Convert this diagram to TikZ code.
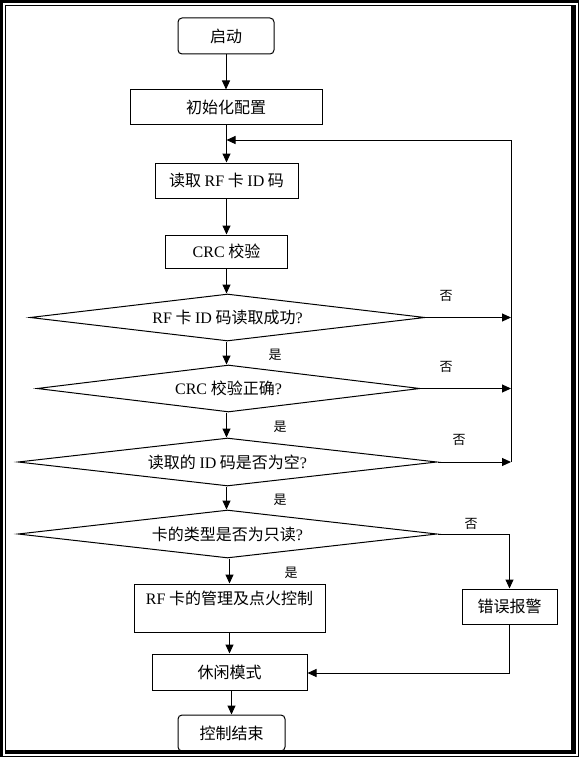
\documentclass[tikz,border=0pt]{standalone}
\usepackage{fontspec}
\setmainfont{Liberation Serif}
\newfontfamily\cjk{Noto Sans CJK SC}
\usetikzlibrary{shapes.geometric,arrows.meta}
\newcommand\latn[1]{{\rmfamily #1}}
\begin{document}
\begin{tikzpicture}[x=1pt,y=-1pt,
  every node/.style={font=\cjk\fontsize{16}{19}\selectfont},
  box/.style={draw, line width=1pt, inner sep=0pt},
  rbox/.style={box, rounded corners=4pt},
  dia/.style={draw, diamond, line width=1pt, inner sep=0pt, shape aspect=8},
  arr/.style={draw, line width=1pt, -{Triangle[length=9pt,width=8pt]}},
  ln/.style={draw, line width=1pt},
  lbl/.style={font=\cjk\fontsize{13}{15}\selectfont}]
\useasboundingbox (0,0) rectangle (581,757);
\fill[white] (0,0) rectangle (581,757);

% nodes
\node[rbox, minimum width=96pt, minimum height=36pt] (start) at (226,36) {启动};
\node[box, minimum width=192pt, minimum height=35pt] (init) at (226,107.5) {初始化配置};
\node[box, minimum width=143pt, minimum height=35pt] (read) at (226.5,180.5) {读取 \latn{RF} 卡 \latn{ID} 码};
\node[box, minimum width=122pt, minimum height=33pt] (crc) at (226.5,251.5) {\latn{CRC} 校验};
\node[dia, minimum width=395pt, minimum height=47pt] (d1) at (227.5,317.5) {\latn{RF} 卡 \latn{ID} 码读取成功\latn{?}};
\node[dia, minimum width=383pt, minimum height=47pt] (d2) at (228.5,388.5) {\latn{CRC} 校验正确\latn{?}};
\node[dia, minimum width=419pt, minimum height=48pt] (d3) at (227.5,462) {读取的 \latn{ID} 码是否为空\latn{?}};
\node[dia, minimum width=419pt, minimum height=48pt] (d4) at (227.5,534) {卡的类型是否为只读\latn{?}};
\node[box, minimum width=191pt, minimum height=48pt, text height=11pt, text depth=19pt] (mgmt) at (229.5,608) {\latn{RF} 卡的管理及点火控制};
\node[box, minimum width=95pt, minimum height=35pt] (alarm) at (509.5,606.5) {错误报警};
\node[box, minimum width=155pt, minimum height=36pt] (idle) at (229.5,672) {休闲模式};
\node[rbox, minimum width=107pt, minimum height=36pt] (end) at (231.5,733) {控制结束};

% labels
\node[lbl] (n1) at (446,296) {否};
\node[lbl] (n2) at (446,367) {否};
\node[lbl] (n3) at (459,440) {否};
\node[lbl] (n4) at (471,524) {否};
\node[lbl] (y1) at (275,355) {是};
\node[lbl] (y2) at (280,427) {是};
\node[lbl] (y3) at (280,500) {是};
\node[lbl] (y4) at (291,573) {是};

% main flow
\draw[arr] (start) -- (init);
\draw[arr] (init.south -| read.north) -- (read.north);
\draw[arr] (read) -- (crc);
\draw[arr] (crc.south) -- (crc.south |- d1.north);
\draw[arr] (d1.south -| crc.south) -- (crc.south |- d2.north);
\draw[arr] (d2.south -| crc.south) -- (crc.south |- d3.north);
\draw[arr] (d3.south -| crc.south) -- (crc.south |- d4.north);
\draw[arr] (d4.south -| mgmt.north) -- (mgmt.north);
\draw[arr] (mgmt.south) -- (idle.north);
\draw[arr] (idle.south -| end.north) -- (end.north);

% loop back
\coordinate (lt) at (511,140);
\coordinate (lb) at (511,462);
\draw[ln] (lb) -- (lt);
\draw[arr] (lt) -- (lt -| read.north);
\draw[arr] (d1.east) -- (d1.east -| lt);
\draw[arr] (d2.east) -- (d2.east -| lt);
\draw[arr] (d3.east) -- (d3.east -| lt);

% error branch
\draw[arr] (d4.east) -- (d4.east -| alarm.north) -- (alarm.north);
\coordinate (ib) at (509.5,673);
\draw[arr] (alarm.south) -- (ib) -- (ib -| idle.east);

% frame
\fill (0,0) rectangle (3.3,756.7);
\fill (0,0) rectangle (579.3,3.3);
\draw[line width=1pt] (578.8,0) -- (578.8,756.7);
\draw[line width=1pt] (0,756.2) -- (579.3,756.2);
\draw[line width=1pt] (5.8,5.3) -- (5.8,750);
\draw[line width=1pt] (5.3,5.8) -- (571,5.8);
\fill (571,5.3) rectangle (576,754.3);
\fill (5.3,750) rectangle (576,754.3);
\end{tikzpicture}
\end{document}
